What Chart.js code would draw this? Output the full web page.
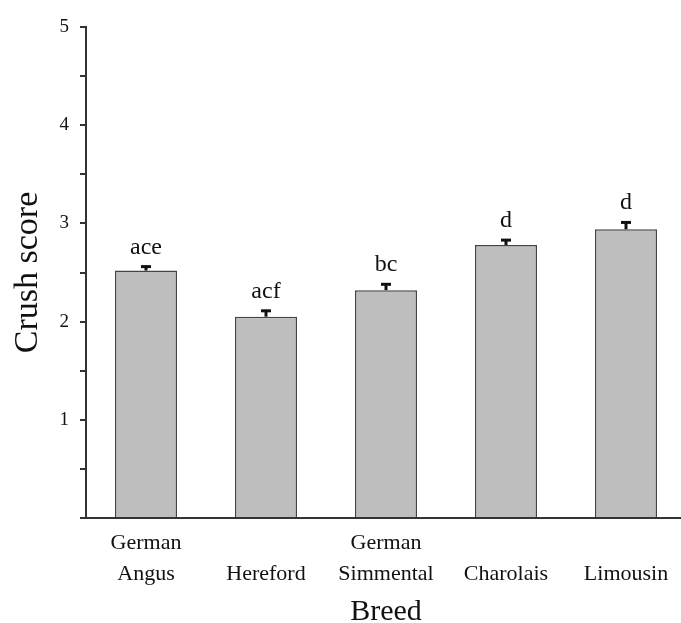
<!DOCTYPE html>
<html>
<head>
<meta charset="utf-8">
<script src="https://cdn.jsdelivr.net/npm/chart.js@4/dist/chart.umd.min.js"></script>
<style>
  html, body { margin: 0; padding: 0; background: #fff; overflow: hidden; }
  #wrap { width: 690px; height: 623px; }
</style>
</head>
<body>
<div id="wrap"><canvas id="crushChart" width="690" height="623"></canvas></div>
<script>
// breed names (two-line labels, first line blank for single words)
const breeds = [['German', 'Angus'], ['', 'Hereford'], ['German', 'Simmental'], ['', 'Charolais'], ['', 'Limousin']];
const crushScores = [2.52, 2.05, 2.32, 2.78, 2.94];
const stdErrors = [0.05, 0.07, 0.07, 0.06, 0.08];
const groupLetters = ['ace', 'acf', 'bc', 'd', 'd'];
const yTicks = [1, 2, 3, 4, 5];

const serif = '"Liberation Serif", "Times New Roman", serif';

// draws error caps and significance letters above each bar
const errorBarPlugin = {
  id: 'errorBars',
  afterDatasetsDraw(chart) {
    const ctx = chart.ctx;
    const meta = chart.getDatasetMeta(0);
    const y = chart.scales.y;
    ctx.save();
    meta.data.forEach((bar, i) => {
      const top = y.getPixelForValue(crushScores[i]);
      const capY = y.getPixelForValue(crushScores[i] + stdErrors[i]);
      ctx.strokeStyle = '#111';
      ctx.lineWidth = 3;
      ctx.beginPath();
      ctx.moveTo(bar.x, top);
      ctx.lineTo(bar.x, capY);
      ctx.stroke();
      ctx.beginPath();
      ctx.moveTo(bar.x - 5, capY + 1);
      ctx.lineTo(bar.x + 5, capY + 1);
      ctx.stroke();

      ctx.fillStyle = '#111';
      ctx.font = '24px ' + serif;
      ctx.textAlign = 'center';
      ctx.textBaseline = 'alphabetic';
      ctx.fillText(groupLetters[i], bar.x, capY - 12);
    });
    ctx.restore();
  }
};

new Chart(document.getElementById('crushChart'), {
  type: 'bar',
  data: {
    labels: breeds,
    datasets: [{
      data: crushScores,
      backgroundColor: '#bebebe',
      borderColor: '#444',
      borderWidth: 1.5,
      borderSkipped: 'bottom',
      categoryPercentage: 1,
      barPercentage: 0.517
    }]
  },
  options: {
    responsive: false,
    animation: false,
    layout: { padding: { top: 27, left: 0, right: 4, bottom: 0 } },
    plugins: {
      legend: { display: false },
      tooltip: { enabled: false }
    },
    scales: {
      x: {
        grid: { display: false },
        border: { display: true, color: '#333', width: 2 },
        ticks: {
          color: '#111',
          font: { family: serif, size: 22, lineHeight: 1.4 },
          padding: 2,
          maxRotation: 0,
          autoSkip: false
        },
        title: {
          display: true,
          text: 'Breed',
          color: '#111',
          font: { family: serif, size: 30, lineHeight: 0.7 },
          padding: { top: 0, bottom: 0 }
        },
        afterFit(scale) { scale.height = 105; }
      },
      y: {
        min: 0,
        max: 5,
        grid: { drawOnChartArea: false, drawTicks: true, tickLength: 6, color: '#333', lineWidth: 2 },
        border: { display: true, color: '#333', width: 2 },
        ticks: {
          stepSize: 0.5,
          autoSkip: false,
          color: '#111',
          padding: 11,
          font: { family: serif, size: 19 },
          callback: v => yTicks.includes(v) ? String(v) : ''
        },
        title: {
          display: true,
          text: 'Crush score',
          color: '#111',
          font: { family: serif, size: 34, lineHeight: 1 },
          padding: { top: 11, bottom: 0 }
        },
        afterFit(scale) { scale.width = 86; }
      }
    }
  },
  plugins: [errorBarPlugin]
});
</script>
</body>
</html>
